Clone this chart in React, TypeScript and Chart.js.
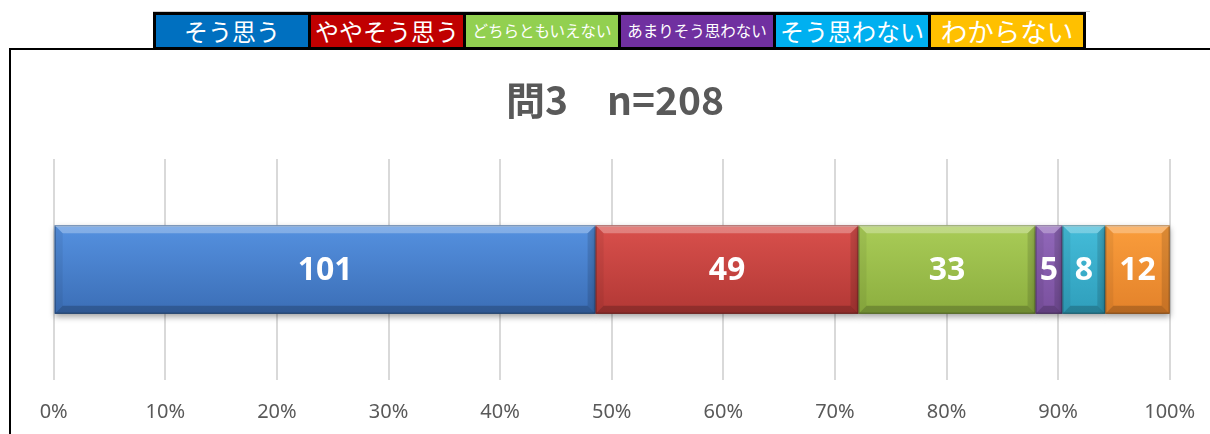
import React, { useEffect, useRef } from 'react';
import { Chart, registerables } from 'chart.js';

Chart.register(...registerables);

const categories = ['問3'];
const responseLabels = ['そう思う', 'ややそう思う', 'どちらともいえない', 'あまりそう思わない', 'そう思わない', 'わからない'];
const responseCounts = [101, 49, 33, 5, 8, 12];
const sampleSize = 208;
const titleText = '問3　n=208';
const tickValues = [0, 10, 20, 30, 40, 50, 60, 70, 80, 90, 100];

const legendColors = ['#0070c0', '#c00000', '#92d050', '#7030a0', '#00b0f0', '#ffc000'];
const legendFontSizes = [24, 24, 15.5, 15.5, 24, 26.5];
const barTopColors = ['#5591e0', '#d9504c', '#a9cc57', '#9168ba', '#44bcd9', '#fa9d3c'];
const barBottomColors = ['#3b6eb6', '#b23835', '#8cae3f', '#7a509e', '#2f9ebb', '#e3822a'];

const percentData = responseCounts.map((c) => (c / sampleSize) * 100);

function poly(ctx: CanvasRenderingContext2D, pts: number[][], fill: string) {
  ctx.beginPath();
  ctx.moveTo(pts[0][0], pts[0][1]);
  for (let i = 1; i < pts.length; i++) ctx.lineTo(pts[i][0], pts[i][1]);
  ctx.closePath();
  ctx.fillStyle = fill;
  ctx.fill();
}

const titlePlugin = {
  id: 'centerTitle',
  afterDraw(chart: any) {
    const ctx: CanvasRenderingContext2D = chart.ctx;
    ctx.save();
    ctx.fillStyle = '#595959';
    ctx.font = 'bold 39px "Noto Sans CJK JP", sans-serif';
    ctx.textAlign = 'center';
    ctx.textBaseline = 'middle';
    ctx.fillText(titleText, 615, 100);
    ctx.restore();
  },
};

const bevelPlugin = {
  id: 'bevelBars',
  afterDatasetsDraw(chart: any) {
    const ctx: CanvasRenderingContext2D = chart.ctx;
    chart.data.datasets.forEach((_ds: any, di: number) => {
      const meta = chart.getDatasetMeta(di);
      meta.data.forEach((bar: any) => {
        const p = bar.getProps(['x', 'y', 'base', 'height'], true);
        const left = Math.min(p.x, p.base);
        const right = Math.max(p.x, p.base);
        const top = p.y - p.height / 2;
        const bottom = p.y + p.height / 2;
        const w = right - left;
        const h = bottom - top;
        ctx.save();
        ctx.shadowColor = 'rgba(0,0,0,0.35)';
        ctx.shadowBlur = 6;
        ctx.shadowOffsetY = 3;
        const g = ctx.createLinearGradient(0, top, 0, bottom);
        g.addColorStop(0, barTopColors[di]);
        g.addColorStop(1, barBottomColors[di]);
        ctx.fillStyle = g;
        ctx.fillRect(left, top, w, h);
        ctx.restore();

        ctx.save();
        const b = Math.min(8, w / 2);
        poly(ctx, [[left, top], [right, top], [right - b, top + b], [left + b, top + b]], 'rgba(255,255,255,0.28)');
        poly(ctx, [[left, top], [left + b, top + b], [left + b, bottom - b], [left, bottom]], 'rgba(0,0,0,0.06)');
        poly(ctx, [[right, top], [right - b, top + b], [right - b, bottom - b], [right, bottom]], 'rgba(0,0,0,0.12)');
        poly(ctx, [[left, bottom], [left + b, bottom - b], [right - b, bottom - b], [right, bottom]], 'rgba(0,0,0,0.2)');
        ctx.fillStyle = 'rgba(255,255,255,0.35)';
        ctx.fillRect(left, top, w, 1.5);
        ctx.strokeStyle = 'rgba(0,0,0,0.3)';
        ctx.lineWidth = 1;
        ctx.strokeRect(left + 0.5, top + 0.5, w - 1, h - 1);

        ctx.fillStyle = '#ffffff';
        ctx.font = 'bold 32px "Noto Sans", "DejaVu Sans", sans-serif';
        ctx.textAlign = 'center';
        ctx.textBaseline = 'middle';
        ctx.fillText(String(responseCounts[di]), (left + right) / 2, p.y + 1);
        ctx.restore();
      });
    });
  },
};

export default function App() {
  const ref = useRef<HTMLCanvasElement>(null);

  useEffect(() => {
    document.body.style.margin = '0';
    const chart = new Chart(ref.current as HTMLCanvasElement, {
      type: 'bar',
      data: {
        labels: categories,
        datasets: responseLabels.map((label, i) => ({
          label,
          data: [percentData[i]],
          backgroundColor: barTopColors[i],
          borderWidth: 0,
          categoryPercentage: 1,
          barPercentage: 0.4,
        })),
      },
      options: {
        indexAxis: 'y',
        animation: false,
        responsive: false,
        devicePixelRatio: 1,
        layout: { padding: { left: 53.7, right: 40.3, top: 159, bottom: 0 } },
        plugins: {
          legend: { display: false },
          tooltip: { enabled: false },
          title: { display: false },
        },
        scales: {
          x: {
            stacked: true,
            min: 0,
            max: 100,
            afterBuildTicks: (axis: any) => {
              axis.ticks = tickValues.map((v) => ({ value: v }));
            },
            afterFit: (scale: any) => {
              scale.height = 54;
              scale.paddingLeft = 0;
              scale.paddingRight = 0;
            },
            grid: { color: '#d9d9d9', lineWidth: 2, drawTicks: false },
            border: { display: false },
            ticks: {
              padding: 20,
              color: '#595959',
              font: { size: 20, family: '"Noto Sans", sans-serif' },
              callback: (v: any) => `${v}%`,
            },
          },
          y: {
            stacked: true,
            display: false,
          },
        },
      },
      plugins: [bevelPlugin, titlePlugin],
    } as any);
    return () => chart.destroy();
  }, []);

  return (
    <div style={{ position: 'fixed', left: 0, top: 0, width: 1210, height: 434, overflow: 'hidden', background: '#fff' }}>
      <div
        style={{
          position: 'absolute',
          left: 9,
          top: 48,
          width: 1400,
          height: 600,
          border: '2px solid #000',
          boxSizing: 'border-box',
        }}
      />
      <canvas ref={ref} width={1210} height={434} style={{ position: 'absolute', left: 0, top: 0 }} />
      <div style={{ position: 'absolute', left: 153, top: 11, width: 937, height: 1, background: '#d0d0d0' }} />
      <div
        style={{
          position: 'absolute',
          left: 153,
          top: 12,
          display: 'flex',
          gap: 3,
          padding: 3,
          background: '#000',
        }}
      >
        {responseLabels.map((l, i) => (
          <div
            key={l}
            style={{
              width: 152,
              height: 32,
              background: legendColors[i],
              color: '#fff',
              fontSize: legendFontSizes[i],
              fontFamily: '"Noto Sans CJK JP", sans-serif',
              display: 'flex',
              alignItems: 'center',
              justifyContent: 'center',
              lineHeight: 1,
              whiteSpace: 'nowrap',
            }}
          >
            {l}
          </div>
        ))}
      </div>
    </div>
  );
}
